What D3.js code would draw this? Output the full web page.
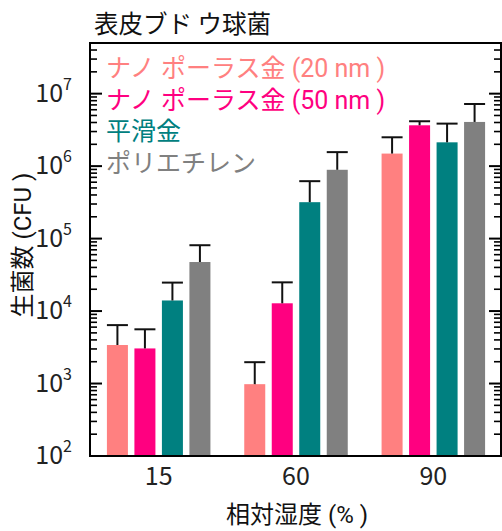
<!DOCTYPE html>
<html>
<head>
<meta charset="utf-8">
<script src="https://cdn.jsdelivr.net/npm/d3@7"></script>
<style>
  html, body { margin: 0; padding: 0; background: #fff; }
  svg { display: block; }
  text { font-family: "Noto Sans CJK JP", "Noto Sans", sans-serif; }
  .mixed { font-family: Roboto, "Noto Sans CJK JP", sans-serif; }
</style>
</head>
<body>
<svg id="chart" width="502" height="531"></svg>
<script>
// Relative humidity groups (%)
const humidity = ["15", "60", "90"];
// Surface materials
const materials = ["ナノ ポーラス金 (20 nm )", "ナノ ポーラス金 (50 nm )", "平滑金", "ポリエチレン"];
const materialColors = ["#ff8080", "#ff0080", "#008080", "#808080"];
// Viable count (CFU), one array per material, ordered by humidity
const np20Mean = [3400, 980, 1.49e6];
const np50Mean = [3050, 1.28e4, 3.66e6];
const smoothMean = [1.4e4, 3.18e5, 2.13e6];
const peMean = [4.75e4, 8.9e5, 4.07e6];
// Upper end of each error bar (CFU)
const np20Upper = [6.4e3, 1.97e3, 2.5e6];
const np50Upper = [5.6e3, 2.49e4, 4.16e6];
const smoothUpper = [2.47e4, 6.2e5, 3.86e6];
const peUpper = [8.1e4, 1.56e6, 7.2e6];
// Log axis decades
const yTickExponents = [2, 3, 4, 5, 6, 7];

const means = [np20Mean, np50Mean, smoothMean, peMean];
const uppers = [np20Upper, np50Upper, smoothUpper, peUpper];

const bars = [];
humidity.forEach((h, gi) => {
  materials.forEach((m, si) => {
    bars.push({ group: h, series: si, value: means[si][gi], upper: uppers[si][gi] });
  });
});

const margin = { left: 90, right: 0, top: 43, bottom: 75 };
const W = 502, H = 531;
const svg = d3.select("#chart");

const x0 = d3.scaleBand().domain(humidity).range([margin.left, W - margin.right]).padding(0);
const x1 = d3.scaleBand().domain(d3.range(materials.length)).range([0, x0.bandwidth()])
  .paddingInner(0.236).paddingOuter(0.615);
const y = d3.scaleLog().domain([100, 5e7]).range([H - margin.bottom, margin.top]);

// Bars
svg.append("g").selectAll("rect").data(bars).join("rect")
  .attr("x", d => x0(d.group) + x1(d.series))
  .attr("width", x1.bandwidth())
  .attr("y", d => y(d.value))
  .attr("height", d => y(100) - y(d.value))
  .attr("fill", d => materialColors[d.series]);

// Upper error bars with caps
const err = svg.append("g").attr("stroke", "#111").attr("stroke-width", 2).attr("fill", "none");
bars.forEach(d => {
  const cx = x0(d.group) + x1(d.series) + x1.bandwidth() / 2;
  const half = x1.bandwidth() / 2;
  err.append("line").attr("x1", cx).attr("x2", cx).attr("y1", y(d.value)).attr("y2", y(d.upper));
  err.append("line").attr("x1", cx - half).attr("x2", cx + half).attr("y1", y(d.upper)).attr("y2", y(d.upper));
});

// Left and right log axes with inward ticks
const allTicks = y.ticks();
const majorTicks = yTickExponents.map(e => Math.pow(10, e));
const isMajor = v => Math.abs(Math.log10(v) - Math.round(Math.log10(v))) < 1e-9;
const minorTicks = allTicks.filter(v => !isMajor(v));

function sideAxis(xPos, dir) {
  const g = svg.append("g").attr("stroke", "#000");
  g.selectAll("line.minor").data(minorTicks).join("line")
    .attr("x1", xPos).attr("x2", xPos + dir * 7)
    .attr("y1", d => y(d)).attr("y2", d => y(d)).attr("stroke-width", 1.6);
  g.selectAll("line.major").data(majorTicks).join("line")
    .attr("x1", xPos).attr("x2", xPos + dir * 12)
    .attr("y1", d => y(d)).attr("y2", d => y(d)).attr("stroke-width", 2);
}
sideAxis(margin.left, 1);
sideAxis(W - 1, -1);

// Frame
svg.append("rect")
  .attr("x", margin.left).attr("y", margin.top)
  .attr("width", W - 1 - margin.left).attr("height", H - margin.bottom - margin.top)
  .attr("fill", "none").attr("stroke", "#000").attr("stroke-width", 2);

// Y tick labels as 10^n
const yl = svg.append("g");
yTickExponents.forEach(e => {
  const t = yl.append("text")
    .attr("x", 72).attr("y", y(Math.pow(10, e)) + 8)
    .attr("text-anchor", "end").attr("font-size", 25).attr("fill", "#222");
  t.append("tspan").text("10");
  t.append("tspan").attr("dy", -12).attr("font-size", 16).text(e);
});

// X tick labels
svg.append("g").selectAll("text").data(humidity).join("text")
  .attr("x", d => x0(d) + x0.bandwidth() / 2)
  .attr("y", 485)
  .attr("text-anchor", "middle").attr("font-size", 25).attr("fill", "#222")
  .text(d => d);

// Axis titles
svg.append("text").attr("class", "mixed")
  .attr("x", 297).attr("y", 523)
  .attr("text-anchor", "middle").attr("font-size", 24).attr("fill", "#111")
  .text("相対湿度 (% )");

svg.append("text").attr("class", "mixed")
  .attr("transform", "translate(31,245) rotate(-90)")
  .attr("text-anchor", "middle").attr("font-size", 24).attr("fill", "#111")
  .text("生菌数 (CFU )");

// Chart title
svg.append("text")
  .attr("x", 94).attr("y", 33)
  .attr("font-size", 24.5).attr("fill", "#111")
  .text("表皮ブド ウ球菌");

// Legend
svg.append("g").selectAll("text").data(materials).join("text")
  .attr("class", "mixed")
  .attr("x", 106)
  .attr("y", (d, i) => 77 + i * 31.5)
  .attr("font-size", 25)
  .attr("fill", (d, i) => materialColors[i])
  .text(d => d);
</script>
</body>
</html>
